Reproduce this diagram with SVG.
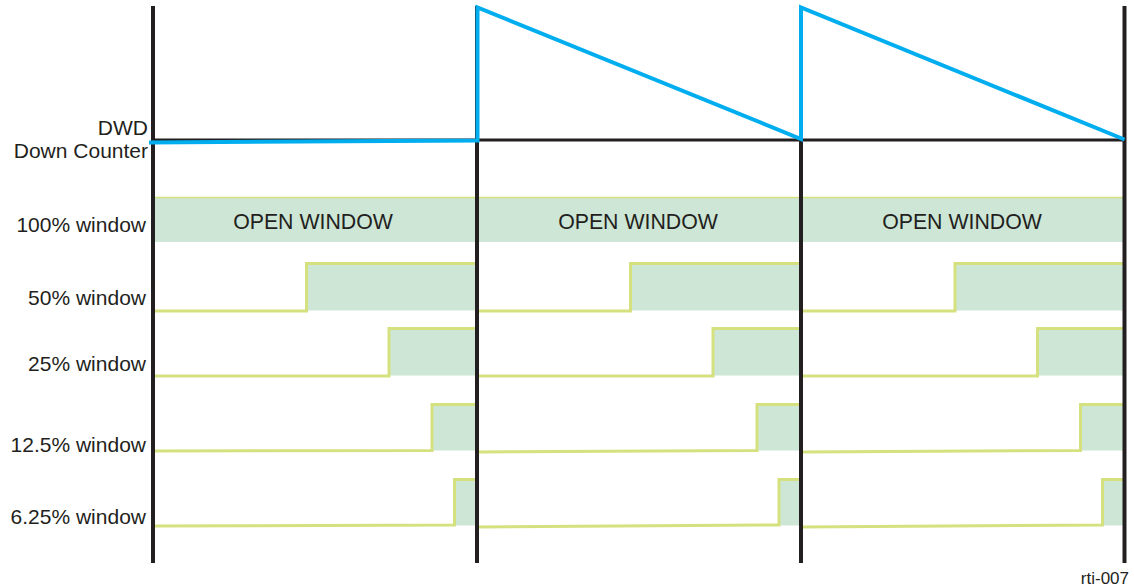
<svg xmlns="http://www.w3.org/2000/svg" width="1134" height="588" viewBox="0 0 1134 588">
  <style>
    .lbl { font-family: "Liberation Sans", Arial, sans-serif; font-size: 21px; fill: #231f20; }
    .ow { font-family: "Liberation Sans", Arial, sans-serif; font-size: 21.3px; fill: #231f20; text-anchor: middle; }
    .fill { fill: #cde6d6; stroke: none; }
    .sig { fill: none; stroke: #d5e17f; stroke-width: 3; stroke-linejoin: miter; }
    .topline { fill: none; stroke: #d5e17f; stroke-width: 1.5; }
    .grid { fill: none; stroke: #231f20; stroke-width: 4; }
    .base { fill: none; stroke: #231f20; stroke-width: 3; }
    .cnt { fill: none; stroke: #00aeef; stroke-width: 4; stroke-linejoin: miter; }
  </style>

  <g id="labels">
    <text class="lbl" x="148" y="135" text-anchor="end">DWD</text>
    <text class="lbl" x="148" y="158" text-anchor="end">Down Counter</text>
    <text class="lbl" x="146" y="232" text-anchor="end">100% window</text>
    <text class="lbl" x="146" y="305" text-anchor="end">50% window</text>
    <text class="lbl" x="146" y="371" text-anchor="end">25% window</text>
    <text class="lbl" x="146" y="452" text-anchor="end">12.5% window</text>
    <text class="lbl" x="146" y="524" text-anchor="end">6.25% window</text>
    <text x="1129" y="584" text-anchor="end" style="font-family: 'Liberation Sans', Arial, sans-serif; font-size: 17px; fill: #231f20;">rti-007</text>
  </g>

  <g id="window100">
    <rect class="fill" x="154" y="197" width="322" height="45"/>
    <rect class="fill" x="478" y="197" width="322" height="45"/>
    <rect class="fill" x="802" y="197" width="323" height="45"/>
    <path class="topline" d="M154,197.5 H476 M478,197.5 H800 M802,197.5 H1125"/>
    <text class="ow" x="313" y="228.5">OPEN WINDOW</text>
    <text class="ow" x="638" y="228.5">OPEN WINDOW</text>
    <text class="ow" x="962" y="228.5">OPEN WINDOW</text>
  </g>

  <g id="window50">
    <rect class="fill" x="306.5" y="263.5" width="170" height="47"/>
    <rect class="fill" x="630.5" y="263.5" width="170" height="47"/>
    <rect class="fill" x="955" y="263.5" width="170" height="47"/>
    <path class="sig" d="M152,311 H306.5 V263.5 H476"/>
    <path class="sig" d="M478,311 H630.5 V263.5 H800"/>
    <path class="sig" d="M802,311 H955 V263.5 H1125"/>
  </g>

  <g id="window25">
    <rect class="fill" x="389" y="328.5" width="87.5" height="47"/>
    <rect class="fill" x="713" y="328.5" width="87.5" height="47"/>
    <rect class="fill" x="1037.5" y="328.5" width="87.5" height="47"/>
    <path class="sig" d="M152,376 H389 V328.5 H476"/>
    <path class="sig" d="M478,376 H713 V328.5 H800"/>
    <path class="sig" d="M802,376 H1037.5 V328.5 H1125"/>
  </g>

  <g id="window12_5">
    <rect class="fill" x="432" y="404.5" width="44.5" height="46"/>
    <rect class="fill" x="757" y="404.5" width="43.5" height="46"/>
    <rect class="fill" x="1080.5" y="404.5" width="44.5" height="46"/>
    <path class="sig" d="M152,451 L432,450.5 V404.5 H476"/>
    <path class="sig" d="M478,452 L757,450.5 V404.5 H800"/>
    <path class="sig" d="M802,452 L1080.5,450.5 V404.5 H1125"/>
  </g>

  <g id="window6_25">
    <rect class="fill" x="454.5" y="479.5" width="22" height="46"/>
    <rect class="fill" x="779" y="479.5" width="21.5" height="46"/>
    <rect class="fill" x="1102.5" y="479.5" width="22.5" height="46"/>
    <path class="sig" d="M152,526 L454.5,525 V479.5 H476"/>
    <path class="sig" d="M478,527 L779,525 V479.5 H800"/>
    <path class="sig" d="M802,527 L1102.5,525 V479.5 H1125"/>
  </g>

  <g id="connectors">
    <path class="base" d="M153,140 H1124"/>
    <path class="grid" d="M153,6 V563 M477,6 V563 M801,6 V563 M1124.5,6 V563"/>
    <path class="cnt" d="M149,142.5 L477.5,140.5 V7.5 L801,139 V7.5 L1124.5,139.5"/>
  </g>
</svg>
